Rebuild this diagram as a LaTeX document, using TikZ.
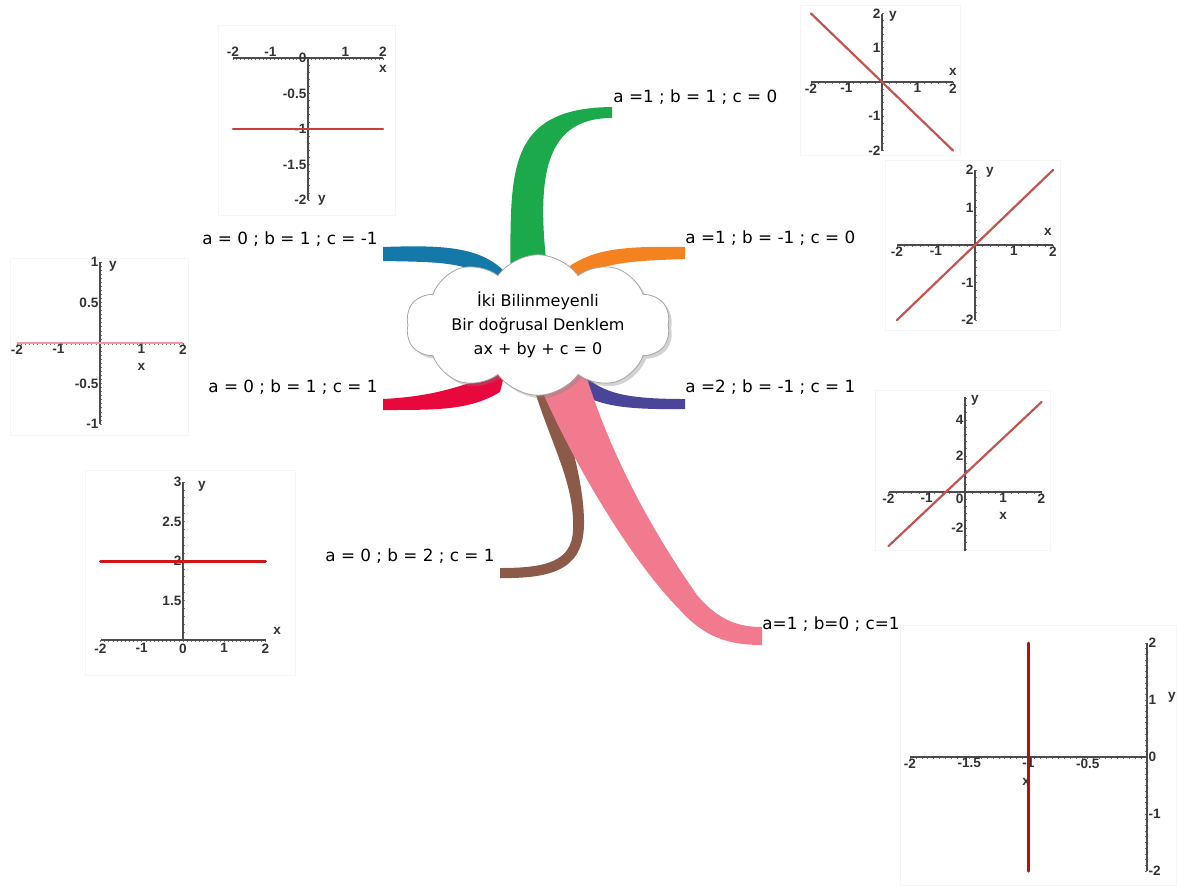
\documentclass[tikz,border=0pt]{standalone}
\usepackage{fontspec}
\setmainfont{DejaVu Sans}
\newfontfamily\tickfont{Liberation Sans}
\usepackage{xcolor}
\usepackage{tikz}
\usetikzlibrary{shapes.symbols, shadows}

\definecolor{brgreen}{RGB}{27,169,76}
\definecolor{brteal}{RGB}{20,120,168}
\definecolor{brorange}{RGB}{245,130,32}
\definecolor{brred}{RGB}{232,8,62}
\definecolor{brpurple}{RGB}{75,69,153}
\definecolor{brbrown}{RGB}{140,90,72}
\definecolor{brpink}{RGB}{242,122,142}
\definecolor{lineA}{RGB}{200,64,58}
\definecolor{lineB}{RGB}{208,22,22}
\definecolor{lineC}{RGB}{198,84,78}
\definecolor{lineD}{RGB}{180,16,16}

\begin{document}
\begin{tikzpicture}[x=0.5pt, y=-0.5pt,
    lbl/.style={inner sep=0pt, font=\fontsize{8.4}{10}\selectfont},
    frame/.style={draw=gray!8, line width=0.5pt},
    axis/.style={draw=black!70, line width=0.7pt},
    tick/.style={draw=black!55, line width=0.35pt},
    num/.style={inner sep=0.6pt, text=black!80, font=\tickfont\bfseries\fontsize{6.8}{7}\selectfont},
    curve/.style={line width=1.1pt, line cap=round}]
\useasboundingbox (0,0) rectangle (1177,890);

% 图框
\draw[frame] (218,25) rectangle (395,215);
\draw[frame] (10,258) rectangle (188,435);
\draw[frame] (85,470) rectangle (295,675);
\draw[frame] (800,5) rectangle (960,155);
\draw[frame] (885,160) rectangle (1060,330);
\draw[frame] (875,390) rectangle (1050,550);
\draw[frame] (900,625) rectangle (1176.5,885);

% 分支
\fill[brgreen] (510,285) .. controls (512,180) and (500,108) .. (612,107) -- (612,118) .. controls (540,118) and (536,185) .. (549,285) -- cycle;
\fill[brteal] (383,247) .. controls (440,245) and (480,246) .. (505,272) -- (492,282) .. controls (470,262) and (440,262) .. (383,261) -- cycle;
\fill[brorange] (685,247) .. controls (625,246) and (590,248) .. (562,272) -- (575,282) .. controls (600,262) and (630,261) .. (685,259) -- cycle;
\fill[brred] (383,399) .. controls (440,396) and (460,385) .. (505,372) -- (500,392) .. controls (470,410) and (440,410) .. (383,410) -- cycle;
\fill[brpurple] (578,370) .. controls (600,392) and (620,399) .. (685,399) -- (685,409) .. controls (620,410) and (595,405) .. (572,388) -- cycle;
\fill[brbrown] (530,375) .. controls (548,440) and (575,480) .. (573,530) .. controls (572,562) and (545,568) .. (500,568) -- (500,578) .. controls (560,579) and (585,565) .. (584,520) .. controls (583,470) and (562,420) .. (555,375) -- cycle;
\fill[brpink] (535,375) .. controls (580,480) and (640,570) .. (680,610) .. controls (705,638) and (730,645) .. (762,645) -- (762,627) .. controls (738,627) and (718,620) .. (697,595) .. controls (655,535) and (612,460) .. (585,372) -- cycle;

% 中心
\node[cloud, cloud puffs=10, cloud puff arc=110, aspect=2.3, draw=gray!70, fill=white,
      minimum width=132pt, minimum height=58pt, inner sep=0pt, align=center,
      drop shadow={opacity=0.35, shadow xshift=1.5pt, shadow yshift=-1.5pt},
      font=\fontsize{8}{12}\selectfont] (center) at (538,325)
      {İki Bilinmeyenli\\Bir doğrusal Denklem\\ax + by + c = 0};

% 标签
\node[lbl, anchor=west] (lA) at (613,97) {a =1 ; b = 1 ; c = 0};
\node[lbl, anchor=east] (lB) at (378,239) {a = 0 ; b = 1 ; c = -1};
\node[lbl, anchor=west] (lC) at (685,238) {a =1 ; b = -1 ; c = 0};
\node[lbl, anchor=east] (lD) at (378,387) {a = 0 ; b = 1 ; c = 1};
\node[lbl, anchor=west] (lE) at (685,387) {a =2 ; b = -1 ; c = 1};
\node[lbl, anchor=east] (lF) at (495,556) {a = 0 ; b = 2 ; c = 1};
\node[lbl, anchor=west] (lG) at (762,624) {a=1 ; b=0 ; c=1};

% 图 1: y = -1
\begin{scope}[shift={(308,58)}, x=18.75pt, y=35.5pt]
  \foreach \p in {-2,-1.9,...,2.05} \draw[tick] (\p,0) -- ++(0,-1.2pt);
  \foreach \p in {0,-0.1,...,-2.05} \draw[tick] (0,\p) -- ++(1.2pt,0);
  \draw[axis] (-2,0) -- (2,0);
  \draw[axis] (0,0) -- (0,-2);
  \foreach \p [count=\k] in {-2,-1,1,2} \node[num, above] (g1x\k) at (\p,0) {\p};
  \foreach \p [count=\k] in {0,-0.5,-1,-1.5,-2} \node[num, left] (g1y\k) at (0,\p) {\p};
  \node[num] (g1xl) at (2,-0.15) {x};
  \node[num] (g1yl) at (0.37,-2) {y};
  \draw[curve, draw=lineA] (-2,-1) -- (2,-1);
\end{scope}

% 图 2: y = 0
\begin{scope}[shift={(100,343)}, x=20.75pt, y=40.5pt]
  \foreach \p in {-2,-1.9,...,2.05} \draw[tick] (\p,0) -- ++(0,-1.2pt);
  \foreach \p in {-1,-0.95,...,1.02} \draw[tick] (0,\p) -- ++(1.2pt,0);
  \draw[axis] (-2,0) -- (2,0);
  \draw[axis] (0,-1) -- (0,1);
  \draw[line width=0.6pt, draw=brpink!80] (-2,0) -- (2,0);
  \foreach \p [count=\k] in {-2,-1,1,2} \node[num, below] (g2x\k) at (\p,0) {\p};
  \foreach \p [count=\k] in {1,0.5,-0.5,-1} \node[num, left] (g2y\k) at (0,\p) {\p};
  \node[num] (g2xl) at (1,-0.3) {x};
  \node[num] (g2yl) at (0.31,0.95) {y};
\end{scope}

% 图 3: y = 2
\begin{scope}[shift={(183,719)}, x=20.625pt, y=39.5pt]
  \foreach \p in {-2,-1.9,...,2.05} \draw[tick] (\p,1) -- ++(0,-1.2pt);
  \foreach \p in {1,1.1,...,3.05} \draw[tick] (0,\p) -- ++(1.2pt,0);
  \draw[axis] (-2,1) -- (2,1);
  \draw[axis] (0,1) -- (0,3);
  \foreach \p [count=\k] in {-2,-1,0,1,2} \node[num, below=1pt] (g3x\k) at (\p,1) {\p};
  \foreach \p [count=\k] in {3,2.5,2,1.5} \node[num, left] (g3y\k) at (0,\p) {\p};
  \node[num] (g3xl) at (2.28,1.12) {x};
  \node[num] (g3yl) at (0.46,2.94) {y};
  \draw[curve, line width=1.5pt, draw=lineB] (-2,2) -- (2,2);
\end{scope}

% 图 4: y = -x
\begin{scope}[shift={(882,82)}, x=17.75pt, y=17.125pt]
  \foreach \p in {-2,-1.8,...,2.05} \draw[tick] (\p,0) -- ++(0,-1.2pt);
  \foreach \p in {-2,-1.8,...,2.05} \draw[tick] (0,\p) -- ++(1.2pt,0);
  \draw[axis] (-2,0) -- (2,0);
  \draw[axis] (0,-2) -- (0,2);
  \foreach \p [count=\k] in {-2,-1,1,2} \node[num, below] (g4x\k) at (\p,0) {\p};
  \foreach \p [count=\k] in {2,1,-1,-2} \node[num, left] (g4y\k) at (0,\p) {\p};
  \node[num] (g4xl) at (2,0.3) {x};
  \node[num] (g4yl) at (0.31,1.93) {y};
  \draw[curve, draw=lineC] (-2,2) -- (2,-2);
\end{scope}

% 图 5: y = x
\begin{scope}[shift={(975,245)}, x=19.5pt, y=18.75pt]
  \foreach \p in {-2,-1.8,...,2.05} \draw[tick] (\p,0) -- ++(0,-1.2pt);
  \foreach \p in {-2,-1.8,...,2.05} \draw[tick] (0,\p) -- ++(1.2pt,0);
  \draw[axis] (-2,0) -- (2,0);
  \draw[axis] (0,-2) -- (0,2);
  \foreach \p [count=\k] in {-2,-1,1,2} \node[num, below] (g5x\k) at (\p,0) {\p};
  \foreach \p [count=\k] in {2,1,-1,-2} \node[num, left] (g5y\k) at (0,\p) {\p};
  \node[num] (g5xl) at (1.87,0.35) {x};
  \node[num] (g5yl) at (0.38,1.95) {y};
  \draw[curve, draw=lineC] (-2,-2) -- (2,2);
\end{scope}

% 图 6: y = 2x + 1
\begin{scope}[shift={(965,492)}, x=19.125pt, y=9pt]
  \foreach \p in {-2,-1.8,...,2.05} \draw[tick] (\p,0) -- ++(0,-1.2pt);
  \foreach \p in {-3.2,-2.8,...,5.3} \draw[tick] (0,\p) -- ++(1.2pt,0);
  \draw[axis] (-2,0) -- (2,0);
  \draw[axis] (0,-3.3) -- (0,5.3);
  \foreach \p [count=\k] in {-2,-1,1,2} \node[num, below] (g6x\k) at (\p,0) {\p};
  \node[num, below left] (g6o) at (0,0) {0};
  \foreach \p [count=\k] in {4,2,-2} \node[num, left] (g6y\k) at (0,\p) {\p};
  \node[num] (g6xl) at (1,-1.3) {x};
  \node[num] (g6yl) at (0.26,5.1) {y};
  \draw[curve, draw=lineC] (-2,-3) -- (2,5);
\end{scope}

% 图 7: x = -1
\begin{scope}[shift={(1147,757)}, x=59.25pt, y=28.5pt]
  \foreach \p in {-2,-1.95,...,0.02} \draw[tick] (\p,0) -- ++(0,-1.2pt);
  \foreach \p in {-2,-1.9,...,2.05} \draw[tick] (0,\p) -- ++(-1.2pt,0);
  \draw[axis] (-2,0) -- (0,0);
  \draw[axis] (0,-2) -- (0,2);
  \foreach \p [count=\k] in {-2,-1.5,-1,-0.5} \node[num, below] (g7x\k) at (\p,0) {\p};
  \node[num, right] (g7o) at (0,0) {0};
  \foreach \p [count=\k] in {2,1,-1,-2} \node[num, right] (g7y\k) at (0,\p) {\p};
  \node[num] (g7xl) at (-1.02,-0.44) {x};
  \node[num] (g7yl) at (0.21,1.05) {y};
  \draw[curve, line width=1.5pt, draw=lineD] (-1,-2) -- (-1,2);
\end{scope}
\end{tikzpicture}
\end{document}
